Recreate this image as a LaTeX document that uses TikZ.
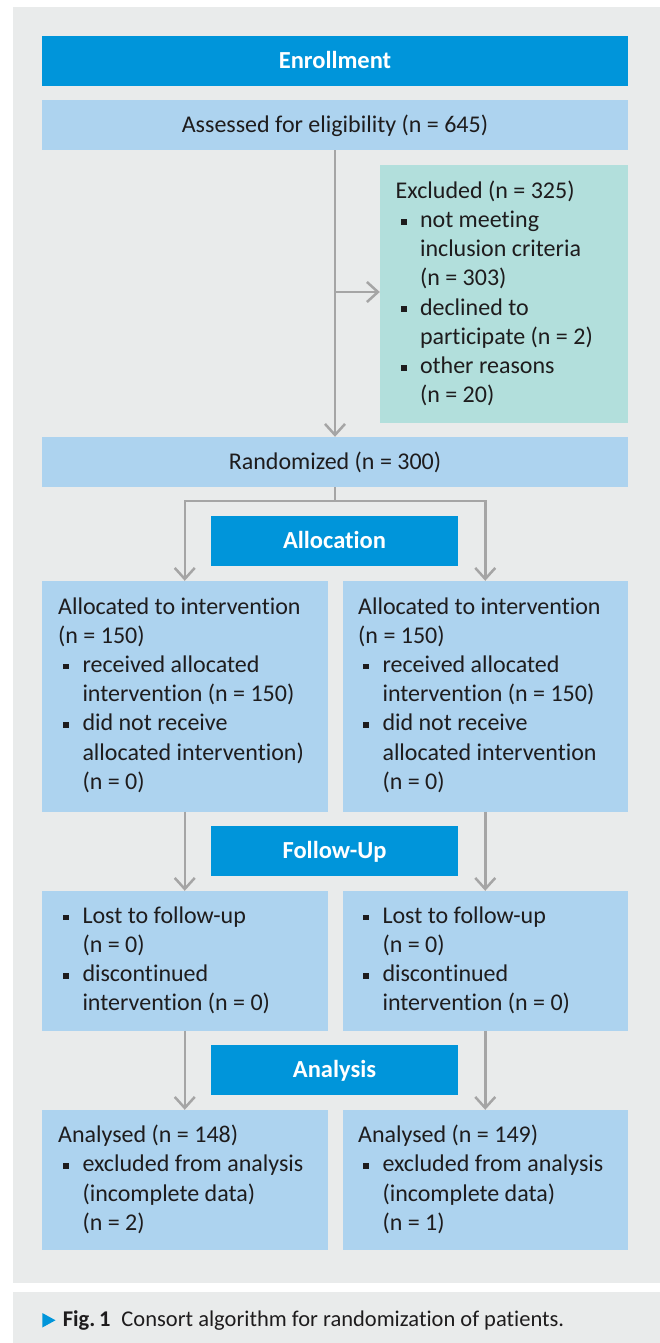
\documentclass[tikz,border=0pt]{standalone}
\usepackage{fontspec}
\setmainfont{Carlito}[Ligatures=NoCommon]
\usetikzlibrary{arrows.meta}
\definecolor{hdrblue}{RGB}{0,149,218}
\definecolor{boxblue}{RGB}{173,211,239}
\definecolor{boxteal}{RGB}{178,223,220}
\definecolor{panelgray}{RGB}{233,235,235}
\definecolor{arrgray}{RGB}{165,165,165}
\definecolor{txt}{RGB}{30,28,29}
\newcommand{\bsq}{\makebox[24.3pt][l]{\hspace{5pt}\raisebox{3pt}{\rule{5.8pt}{5.8pt}}}}
\newcommand{\ind}{\hspace{24.3pt}}
\newcommand{\blines}[1]{\begin{tabular}[t]{@{}l@{}}#1\end{tabular}}
\tikzset{
  hdr/.style={fill=hdrblue, text=white, font=\fontsize{24.5}{29}\selectfont\bfseries, inner sep=0pt, text height=15pt, text depth=0pt},
  wide/.style={minimum width=586pt, minimum height=50pt},
  mid/.style={minimum width=247pt, minimum height=50pt},
  lbox/.style={fill=boxblue, inner sep=0pt},
  tbox/.style={fill=boxteal, inner sep=0pt},
  single/.style={text=txt, font=\fontsize{24}{29.2}\selectfont, text height=15pt, text depth=0pt},
  body/.style={anchor=base west, inner sep=0pt, text=txt, font=\fontsize{24}{29.2}\selectfont},
  arr/.style={draw=arrgray, line width=2.5pt, -{Straight Barb[length=11pt,width=20pt]}},
  ln/.style={draw=arrgray, line width=2.5pt}
}
\begin{document}
\begin{tikzpicture}[x=1pt,y=-1pt]
\useasboundingbox (0,0) rectangle (660,1343);
% panels
\fill[panelgray] (12.7,7) rectangle (660,1282.7);
\fill[panelgray] (12.7,1291.7) rectangle (660,1343);

% header and wide boxes
\node[hdr, wide] (enroll) at (335,61) {Enrollment};
\node[lbox, wide, single] (assess) at (335,125) {Assessed for eligibility (n = 645)};
\node[tbox, minimum width=248pt, minimum height=258pt] (excl) at (504,294) {};
\node[lbox, wide, single] (rand) at (335,462) {Randomized (n = 300)};

\node[hdr, mid] (alloc) at (334.5,541) {Allocation};
\node[lbox, minimum width=285.5pt, minimum height=230.5pt] (allocL) at (184.75,696.25) {};
\node[lbox, minimum width=285.5pt, minimum height=230.5pt] (allocR) at (485.25,696.25) {};

\node[hdr, mid] (follow) at (334.5,851) {Follow-Up};
\node[lbox, minimum width=285.5pt, minimum height=139.5pt] (lostL) at (184.75,960.75) {};
\node[lbox, minimum width=285.5pt, minimum height=139.5pt] (lostR) at (485.25,960.75) {};

\node[hdr, mid] (analysis) at (334.5,1070) {Analysis};
\node[lbox, minimum width=285.5pt, minimum height=139.5pt] (anL) at (184.75,1179.75) {};
\node[lbox, minimum width=285.5pt, minimum height=139.5pt] (anR) at (485.25,1179.75) {};

% body texts
\node[body] (exclT) at (395.5,198.3) {\blines{Excluded (n = 325)\\
\bsq not meeting\\ \ind inclusion criteria\\ \ind (n = 303)\\
\bsq declined to\\ \ind participate (n = 2)\\
\bsq other reasons\\ \ind (n = 20)}};

\node[body] (allocLT) at (58,614) {\blines{Allocated to intervention\\ (n = 150)\\
\bsq received allocated\\ \ind intervention (n = 150)\\
\bsq did not receive\\ \ind allocated intervention)\\ \ind (n = 0)}};
\node[body] (allocRT) at (358,614) {\blines{Allocated to intervention\\ (n = 150)\\
\bsq received allocated\\ \ind intervention (n = 150)\\
\bsq did not receive\\ \ind allocated intervention\\ \ind (n = 0)}};

\node[body] (lostLT) at (58,923.3) {\blines{\bsq Lost to follow-up\\ \ind (n = 0)\\
\bsq discontinued\\ \ind intervention (n = 0)}};
\node[body] (lostRT) at (358,923.3) {\blines{\bsq Lost to follow-up\\ \ind (n = 0)\\
\bsq discontinued\\ \ind intervention (n = 0)}};

\node[body] (anLT) at (58,1142.7) {\blines{Analysed (n = 148)\\
\bsq excluded from analysis\\ \ind (incomplete data)\\ \ind (n = 2)}};
\node[body] (anRT) at (358,1142.7) {\blines{Analysed (n = 149)\\
\bsq excluded from analysis\\ \ind (incomplete data)\\ \ind (n = 1)}};

% connectors
\draw[arr] (assess.south) -- (rand.north);
\coordinate (side) at (335,292);
\draw[arr] (side) -- (side -| excl.west);
\coordinate (split) at (335,501);
\draw[ln] (rand.south) -- (split);
\draw[arr, line join=miter] (split) -| (allocL.north);
\draw[arr, line join=miter] (split) -| (allocR.north);
\draw[arr] (allocL.south) -- (lostL.north);
\draw[arr] (allocR.south) -- (lostR.north);
\draw[arr] (lostL.south) -- (anL.north);
\draw[arr] (lostR.south) -- (anR.north);

% caption
\fill[hdrblue] (42.3,1313) -- (42.3,1327.5) -- (55.5,1320.25) -- cycle;
\node[anchor=base west, inner sep=0pt, text=txt, font=\fontsize{22.5}{26}\selectfont] (cap) at (62.6,1326.7)
  {{\bfseries Fig.\,1}\hspace{11pt}Consort algorithm for randomization of patients.};
\end{tikzpicture}
\end{document}
